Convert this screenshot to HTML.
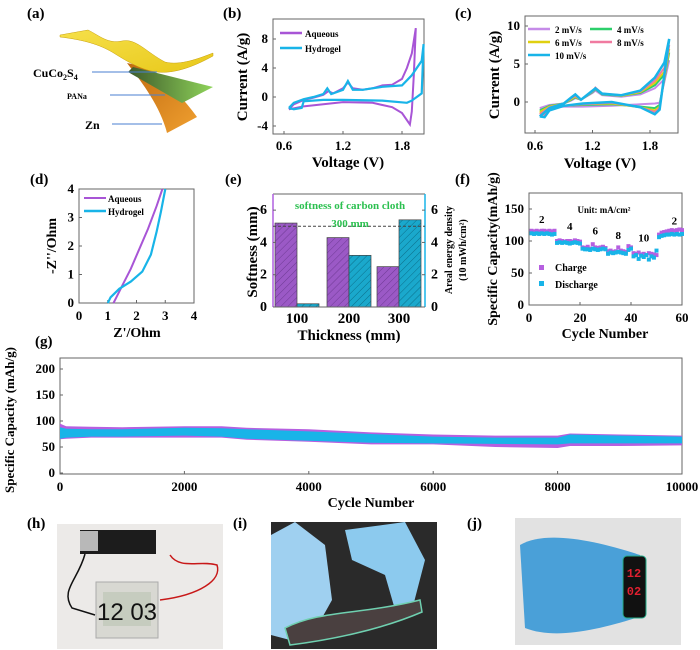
<!DOCTYPE html>
<html><head><meta charset="utf-8"><style>
html,body{margin:0;padding:0;background:#fff;width:700px;height:650px;overflow:hidden}
svg{display:block;font-family:"Liberation Serif",serif;font-weight:bold}
</style></head><body>
<svg id="fig" width="700" height="650" viewBox="0 0 700 650" xmlns="http://www.w3.org/2000/svg">
<defs>
<pattern id="hatchP" width="5" height="5" patternUnits="userSpaceOnUse" patternTransform="rotate(45)"><rect width="5" height="5" fill="#9b59c6"/><line x1="0" y1="0" x2="0" y2="5" stroke="#6e3a94" stroke-width="1"/></pattern>
<pattern id="hatchC" width="5" height="5" patternUnits="userSpaceOnUse" patternTransform="rotate(45)"><rect width="5" height="5" fill="#1aa8cc"/><line x1="0" y1="0" x2="0" y2="5" stroke="#0b6f8a" stroke-width="1"/></pattern>
<linearGradient id="yel" x1="0" y1="0" x2="1" y2="1"><stop offset="0" stop-color="#f6e04a"/><stop offset="1" stop-color="#e8c81a"/></linearGradient>
<linearGradient id="grn" x1="0" y1="0" x2="1" y2="0"><stop offset="0" stop-color="#3e5a2a"/><stop offset="1" stop-color="#8fd45a"/></linearGradient>
<linearGradient id="org" x1="0" y1="0" x2="1" y2="1"><stop offset="0" stop-color="#c06a10"/><stop offset="1" stop-color="#f0a030"/></linearGradient>
</defs>
<g>
<text x="27" y="18" font-size="15">(a)</text>
<path d="M127 63 C140 80 160 105 167 133 L197 117 C185 100 170 85 150 68 Z" fill="url(#org)"/>
<path d="M133 67 L213 87 L182 103 L128 72 Z" fill="url(#grn)"/>
<path d="M60 35 L88 30 C100 36 108 44 122 41 C136 38 146 52 165 62 C180 66 200 58 213 53 L213 56 C195 66 175 74 157 72 C140 70 125 60 112 52 C100 45 85 40 60 37 Z" fill="url(#yel)" stroke="#c8a010" stroke-width="0.5"/>
<line x1="157" y1="72" x2="92" y2="72" stroke="#4a7fd0" stroke-width="1"/>
<line x1="165" y1="95" x2="110" y2="95" stroke="#4a7fd0" stroke-width="1"/>
<line x1="162" y1="124" x2="112" y2="124" stroke="#4a7fd0" stroke-width="1"/>
<text x="33" y="77" font-size="12">CuCo<tspan font-size="8" dy="3">2</tspan><tspan dy="-3">S</tspan><tspan font-size="8" dy="3">4</tspan></text>
<text x="67" y="99" font-size="8">PANa</text>
<text x="85" y="129" font-size="12">Zn</text>
</g>
<g id="plots"></g>
<g>
<text x="27" y="528" font-size="15">(h)</text>
<rect x="57" y="524" width="166" height="125" fill="#eceae8"/>
<rect x="80" y="530" width="76" height="24" fill="#1c1c1c"/>
<rect x="80" y="531" width="18" height="20" fill="#b8b8b8"/>
<path d="M85 554 C78 580 60 590 72 608 L95 615" stroke="#111" stroke-width="1.5" fill="none"/>
<path d="M170 555 C180 570 200 560 217 565 C222 580 200 595 160 600" stroke="#c81818" stroke-width="1.5" fill="none"/>
<rect x="96" y="582" width="62" height="56" fill="#d8d8d2" stroke="#aaa"/>
<rect x="103" y="592" width="48" height="34" fill="#c6ccbf"/>
<text x="127" y="620" font-size="24" text-anchor="middle" font-family="Liberation Sans Narrow, Liberation Sans, sans-serif" font-weight="normal" fill="#111">12 03</text>
</g>
<g>
<text x="233" y="528" font-size="15">(i)</text>
<rect x="271" y="522" width="166" height="127" fill="#2a2a2a"/>
<path d="M271 535 L295 522 L325 545 L332 600 L318 625 L290 640 L271 635 Z" fill="#9fd0f0"/>
<path d="M345 530 L405 522 L425 560 L412 610 L398 620 L385 575 L352 560 Z" fill="#8ccaee"/>
<path d="M285 628 C320 610 360 615 420 600 L422 612 C380 630 330 640 290 645 Z" fill="#4a4040" stroke="#6fd0b0" stroke-width="1.5"/>
</g>
<g>
<text x="467" y="528" font-size="15">(j)</text>
<rect x="515" y="518" width="166" height="127" fill="#e2e2e2"/>
<path d="M520 545 C545 530 595 540 640 555 L645 615 C600 630 555 640 525 628 Z" fill="#4aa0d8"/>
<rect x="623" y="556" width="23" height="62" rx="4" fill="#111" stroke="#2a8" stroke-width="1"/>
<text x="634" y="577" font-size="12" text-anchor="middle" fill="#e02030" font-family="Liberation Mono, monospace">12</text>
<text x="634" y="595" font-size="12" text-anchor="middle" fill="#e02030" font-family="Liberation Mono, monospace">02</text>
</g>
</svg>
<script>
const bAqV=[0.65,0.7,0.8,0.9,1.0,1.05,1.1,1.2,1.25,1.3,1.4,1.5,1.6,1.7,1.8,1.85,1.9,1.94,1.92,1.9,1.88,1.8,1.7,1.5,1.2,1.0,0.8,0.65];
const bAqI=[-1.7,-1.0,-0.4,-0.1,0.3,0.8,0.5,1.2,2.0,1.2,1.0,1.2,1.6,1.7,2.5,4.0,6.0,9.5,3.0,-2.0,-3.8,-2.2,-1.4,-0.8,-0.7,-1.0,-1.3,-1.7];
const bHyV=[0.65,0.7,0.8,0.9,1.0,1.04,1.08,1.2,1.25,1.3,1.4,1.6,1.8,1.9,2.0,2.02,2.0,1.9,1.85,1.6,1.2,1.0,0.8,0.78,0.7,0.65];
const bHyI=[-1.5,-0.8,-0.3,0.0,0.4,1.2,0.4,1.0,2.2,1.0,1.0,1.4,1.6,3.0,5.0,7.3,0.5,-0.5,-0.8,-0.5,-0.4,-0.4,-0.6,-1.5,-1.7,-1.5];
const cV=[0.65,0.75,0.9,0.98,1.02,1.08,1.2,1.23,1.3,1.5,1.7,1.85,1.95,2.0,1.9,1.85,1.7,1.4,1.1,0.9,0.75,0.7,0.65];
const cRates=["2 mV/s","4 mV/s","6 mV/s","8 mV/s","10 mV/s"];
const c2=[-0.8,-0.4,-0.2,0.2,0.5,0.3,1.2,1.5,0.9,0.7,1.0,1.8,3.0,5.5,-0.1,-0.2,-0.3,-0.5,-0.6,-0.6,-0.7,-0.8,-0.8];
const c4=[-1.1,-0.5,-0.2,0.3,0.6,0.3,1.3,1.7,1.0,0.8,1.2,2.2,3.6,6.5,-0.4,-0.8,-0.6,-0.3,-0.4,-0.5,-0.8,-1.2,-1.1];
const c6=[-1.3,-0.6,-0.2,0.4,0.7,0.3,1.4,1.8,1.1,0.8,1.3,2.5,4.0,7.0,-0.6,-1.1,-0.7,-0.2,-0.3,-0.5,-0.9,-1.5,-1.3];
const c8=[-1.6,-0.7,-0.2,0.5,0.8,0.3,1.4,1.9,1.1,0.9,1.4,2.8,4.5,7.5,-0.8,-1.3,-0.7,-0.1,-0.3,-0.5,-1.0,-1.7,-1.6];
const c10=[-1.9,-0.8,-0.2,0.6,1.0,0.3,1.5,1.8,1.1,0.9,1.5,3.2,5.2,8.3,-1.0,-1.6,-0.7,0.0,-0.2,-0.5,-1.1,-2.0,-1.9];
const dAqX=[1.2,1.3,1.5,1.8,2.1,2.4,2.7,2.9];
const dAqY=[0,0.2,0.6,1.2,1.9,2.6,3.4,4.0];
const dHyX=[1.0,1.1,1.4,1.8,2.2,2.5,2.7,2.85,3.0];
const dHyY=[0,0.2,0.5,0.75,1.1,1.7,2.5,3.2,4.0];
const eCats=["100","200","300"];
const eSoft=[5.2,4.3,2.5];
const eEnergy=[0.2,3.2,5.4];
const fCharge=[116,115,116,115,116,116,115,116,115,116,100,101,100,99,100,100,99,101,100,99,90,89,91,88,95,90,89,90,91,89,84,85,83,84,90,85,84,83,92,90,81,80,82,79,80,78,81,80,79,78,110,113,114,115,116,117,116,117,118,117];
const fDischarge=[112,111,112,111,112,111,112,111,110,111,97,98,97,98,97,96,97,98,97,96,88,87,87,86,88,87,86,87,88,87,80,82,81,82,83,82,81,80,86,88,76,78,72,77,75,78,71,76,74,85,106,108,109,110,110,111,110,111,110,111];
const fRateLabels=["2","4","6","8","10","2"];
const fRateCycles=[5,16,26,35,45,57];
const fRateCap=[128,117,110,103,99,126];
const gCycles=[0,100,500,1000,2000,2600,3000,4000,5000,6000,7000,8000,8200,9000,10000];
const gChargeTop=[95,90,89,88,90,90,87,84,78,74,72,72,76,74,72];
const gChargeBot=[65,66,68,68,68,68,64,60,55,55,50,48,52,52,53];
const gDisTop=[88,85,84,84,87,86,84,80,75,70,68,68,74,72,70];
const gDisBot=[66,68,70,70,72,70,66,62,58,57,56,55,57,57,57];

const NS="http://www.w3.org/2000/svg";
const root=document.getElementById('plots');
function mk(parent,tag,attrs,name,inter){
  const e=document.createElementNS(NS,tag);
  for(const k in attrs)e.setAttribute(k,attrs[k]);
  
  
  parent.appendChild(e);return e;
}
function txt(parent,x,y,s,size,anchor,name,extra){
  const t=mk(parent,'text',Object.assign({x:x,y:y,'font-size':size,'text-anchor':anchor||'start'},extra||{}),name,false);
  t.textContent=s;return t;
}
function lin(d0,d1,r0,r1){return v=>r0+(v-d0)*(r1-r0)/(d1-d0);}
function path(xs,ys,X,Y){return xs.map((v,i)=>(i?'L':'M')+X(v).toFixed(1)+' '+Y(ys[i]).toFixed(1)).join(' ');}
function frame(g,x0,y0,x1,y1,name){mk(g,'rect',{x:x0,y:y0,width:x1-x0,height:y1-y0,fill:'none',stroke:'#666','stroke-width':1},name,false);}
function xTicks(g,vals,X,y1,ly,size,name){vals.forEach(v=>{mk(g,'line',{x1:X(v),x2:X(v),y1:y1,y2:y1-3,stroke:'#666'},name+'-tick',false);txt(g,X(v),ly,String(v),size,'middle',name+'-label');});}
function yTicks(g,vals,Y,x0,lx,size,name,anchor,dir){vals.forEach(v=>{mk(g,'line',{x1:x0,x2:x0+(dir||3),y1:Y(v),y2:Y(v),stroke:'#666'},name+'-tick',false);txt(g,lx,Y(v)+4,String(v),size,anchor||'end',name+'-label');});}
function vtitle(g,x,y,s,size,name){txt(g,x,y,s,size,'middle',name,{transform:'rotate(-90 '+x+' '+y+')'});}

(function(){
  const g=mk(root,'g',{},'panel-b-cv',false);
  txt(g,223,18,'(b)',15,'start','label-b');
  const X=lin(0.6,1.8,284,402),Y=lin(0,8,97,39);
  frame(g,273,19,424,134,'plot-area-b');
  xTicks(g,[0.6,1.2,1.8],X,134,150,13,'x-axis-b');
  yTicks(g,[-4,0,4,8],Y,273,268,13,'y-axis-b');
  mk(g,'path',{d:path(bAqV,bAqI,X,Y),fill:'none',stroke:'#a855d6','stroke-width':2},'line-aqueous-b',false);
  mk(g,'path',{d:path(bHyV,bHyI,X,Y),fill:'none',stroke:'#18b4e8','stroke-width':2.2},'line-hydrogel-b',false);
  mk(g,'line',{x1:280,x2:302,y1:33,y2:33,stroke:'#a855d6','stroke-width':2.5},'legend-aqueous-b',false);
  txt(g,305,37,'Aqueous',9,'start','legend-aqueous-b-text');
  mk(g,'line',{x1:280,x2:302,y1:48,y2:48,stroke:'#18b4e8','stroke-width':2.5},'legend-hydrogel-b',false);
  txt(g,305,52,'Hydrogel',9,'start','legend-hydrogel-b-text');
  vtitle(g,247,77,'Current (A/g)',15,'y-axis-title-b');
  txt(g,348,167,'Voltage (V)',15,'middle','x-axis-title-b');
})();
(function(){
  const g=mk(root,'g',{},'panel-c-cv-rates',false);
  txt(g,455,18,'(c)',15,'start','label-c');
  const X=lin(0.6,1.8,535,650),Y=lin(0,10,102,26);
  frame(g,525,16,678,133,'plot-area-c');
  xTicks(g,[0.6,1.2,1.8],X,133,150,13,'x-axis-c');
  yTicks(g,[0,5,10],Y,525,520,13,'y-axis-c');
  const series=[c2,c4,c6,c8,c10],cols=['#c58be8','#2ccf6a','#e0d010','#f07aa0','#18b4e8'];
  series.forEach((s,i)=>{mk(g,'path',{d:path(cV,s,X,Y),fill:'none',stroke:cols[i],'stroke-width':i==4?2.5:2},'line-'+cRates[i].replace(/[ \/]/g,'-'),false);});
  const lx=[528,590,528,590,528],ly=[29,29,42,42,55];
  cRates.forEach((r,i)=>{mk(g,'line',{x1:lx[i],x2:lx[i]+22,y1:ly[i],y2:ly[i],stroke:cols[i],'stroke-width':2.5},'legend-swatch-c',false);txt(g,lx[i]+27,ly[i]+4,r,9,'start','legend-text-c');});
  vtitle(g,499,75,'Current (A/g)',15,'y-axis-title-c');
  txt(g,600,168,'Voltage (V)',15,'middle','x-axis-title-c');
})();
(function(){
  const g=mk(root,'g',{},'panel-d-nyquist',false);
  txt(g,30,184,'(d)',15,'start','label-d');
  const X=lin(0,4,79,194),Y=lin(0,4,303,189);
  frame(g,79,189,194,303,'plot-area-d');
  xTicks(g,[0,1,2,3,4],X,303,320,13,'x-axis-d');
  yTicks(g,[0,1,2,3,4],Y,79,74,13,'y-axis-d');
  mk(g,'path',{d:path(dAqX,dAqY,X,Y),fill:'none',stroke:'#a855d6','stroke-width':2},'line-aqueous-d',false);
  mk(g,'path',{d:path(dHyX,dHyY,X,Y),fill:'none',stroke:'#18b4e8','stroke-width':2.2},'line-hydrogel-d',false);
  mk(g,'line',{x1:84,x2:106,y1:198,y2:198,stroke:'#a855d6','stroke-width':2},'legend-aqueous-d',false);
  txt(g,108,202,'Aqueous',9,'start','legend-aqueous-d-text');
  mk(g,'line',{x1:84,x2:106,y1:211,y2:211,stroke:'#18b4e8','stroke-width':2.5},'legend-hydrogel-d',false);
  txt(g,108,215,'Hydrogel',9,'start','legend-hydrogel-d-text');
  vtitle(g,56,246,"-Z''/Ohm",14,'y-axis-title-d');
  txt(g,137,337,"Z'/Ohm",14,'middle','x-axis-title-d');
})();
(function(){
  const g=mk(root,'g',{},'panel-e-bars',false);
  txt(g,225,184,'(e)',15,'start','label-e');
  const Y=lin(0,7,307,194),cx=[297,349,399],bw=22;
  eCats.forEach((c,i)=>{
    mk(g,'rect',{x:cx[i]-bw,y:Y(eSoft[i]),width:bw,height:Y(0)-Y(eSoft[i]),fill:'url(#hatchP)',stroke:'#444','stroke-width':0.7},'bar-softness-'+c,false);
    mk(g,'rect',{x:cx[i],y:Y(eEnergy[i]),width:bw,height:Y(0)-Y(eEnergy[i]),fill:'url(#hatchC)',stroke:'#444','stroke-width':0.7},'bar-energy-'+c,false);
    txt(g,cx[i],323,c,15,'middle','x-tick-label-e');
  });
  mk(g,'line',{x1:273,x2:425,y1:194,y2:194,stroke:'#666'},'top-border-e',false);
  mk(g,'line',{x1:273,x2:425,y1:307,y2:307,stroke:'#666'},'x-axis-e',false);
  mk(g,'line',{x1:273,x2:273,y1:194,y2:307,stroke:'#b060e0','stroke-width':1.5},'y-axis-left-e',false);
  mk(g,'line',{x1:425,x2:425,y1:194,y2:307,stroke:'#18b4e8','stroke-width':1.5},'y-axis-right-e',false);
  yTicks(g,[0,2,4,6],Y,273,267,14,'y-axis-left-e');
  yTicks(g,[0,2,4,6],Y,425,431,14,'y-axis-right-e','start',-3);
  mk(g,'line',{x1:273,x2:425,y1:Y(5),y2:Y(5),stroke:'#444','stroke-dasharray':'3,2'},'reference-line-300mm',false);
  txt(g,350,209,'softness of carbon cloth',11,'middle','annotation-softness',{fill:'#2cc050'});
  txt(g,350,227,'300 mm',11,'middle','annotation-300mm',{fill:'#2cc050'});
  vtitle(g,257,252,'Softness (mm)',15,'y-axis-title-left-e');
  vtitle(g,452,250,'Areal energy density',10,'y-axis-title-right-e');
  vtitle(g,466,250,'(10 mWh/cm²)',10,'y-axis-title-right-e-units');
  txt(g,349,340,'Thickness (mm)',15,'middle','x-axis-title-e');
})();
(function(){
  const g=mk(root,'g',{},'panel-f-rate',false);
  txt(g,455,184,'(f)',15,'start','label-f');
  const X=lin(0,60,529,682),Y=lin(0,150,305,209);
  frame(g,529,193,682,305,'plot-area-f');
  xTicks(g,[0,20,40,60],X,305,322,13,'x-axis-f');
  yTicks(g,[0,50,100,150],Y,529,524,13,'y-axis-f');
  fCharge.forEach((v,i)=>{mk(g,'rect',{x:X(i+1)-2,y:Y(v)-2,width:4,height:4,fill:'#b65fe0'},'point-charge',false);});
  fDischarge.forEach((v,i)=>{mk(g,'rect',{x:X(i+1)-2,y:Y(v)-2,width:4,height:4,fill:'#18b4e8'},'point-discharge',false);});
  fRateLabels.forEach((l,i)=>{txt(g,X(fRateCycles[i]),Y(fRateCap[i]),l,11,'middle','rate-label-f');});
  txt(g,604,213,'Unit: mA/cm²',9,'middle','unit-annotation-f');
  mk(g,'rect',{x:539,y:265,width:5,height:5,fill:'#b65fe0'},'legend-charge-marker',false);
  txt(g,555,271,'Charge',10,'start','legend-charge-text');
  mk(g,'rect',{x:539,y:281,width:5,height:5,fill:'#18b4e8'},'legend-discharge-marker',false);
  txt(g,555,288,'Discharge',10,'start','legend-discharge-text');
  vtitle(g,497,249,'Specific Capacity(mAh/g)',14,'y-axis-title-f');
  txt(g,605,338,'Cycle Number',14,'middle','x-axis-title-f');
})();
(function(){
  const g=mk(root,'g',{},'panel-g-cycling',false);
  txt(g,35,346,'(g)',15,'start','label-g');
  const X=lin(0,10000,60,682),Y=lin(0,200,473,369);
  frame(g,60,358,682,474,'plot-area-g');
  xTicks(g,[0,2000,4000,6000,8000,10000],X,474,491,13,'x-axis-g');
  yTicks(g,[0,50,100,150,200],Y,60,55,13,'y-axis-g');
  function band(top,bot,col,name){
    const d=path(gCycles,top,X,Y)+' '+gCycles.slice().reverse().map((c,i)=>'L'+X(c).toFixed(1)+' '+Y(bot[bot.length-1-i]).toFixed(1)).join(' ')+' Z';
    mk(g,'path',{d:d,fill:col},name,false);
  }
  band(gChargeTop,gChargeBot,'#b65fe0','band-charge-g');
  band(gDisTop,gDisBot,'#18b4e8','band-discharge-g');
  vtitle(g,14,420,'Specific Capacity (mAh/g)',13,'y-axis-title-g');
  txt(g,371,507,'Cycle Number',14,'middle','x-axis-title-g');
})();
</script>
</body></html>
